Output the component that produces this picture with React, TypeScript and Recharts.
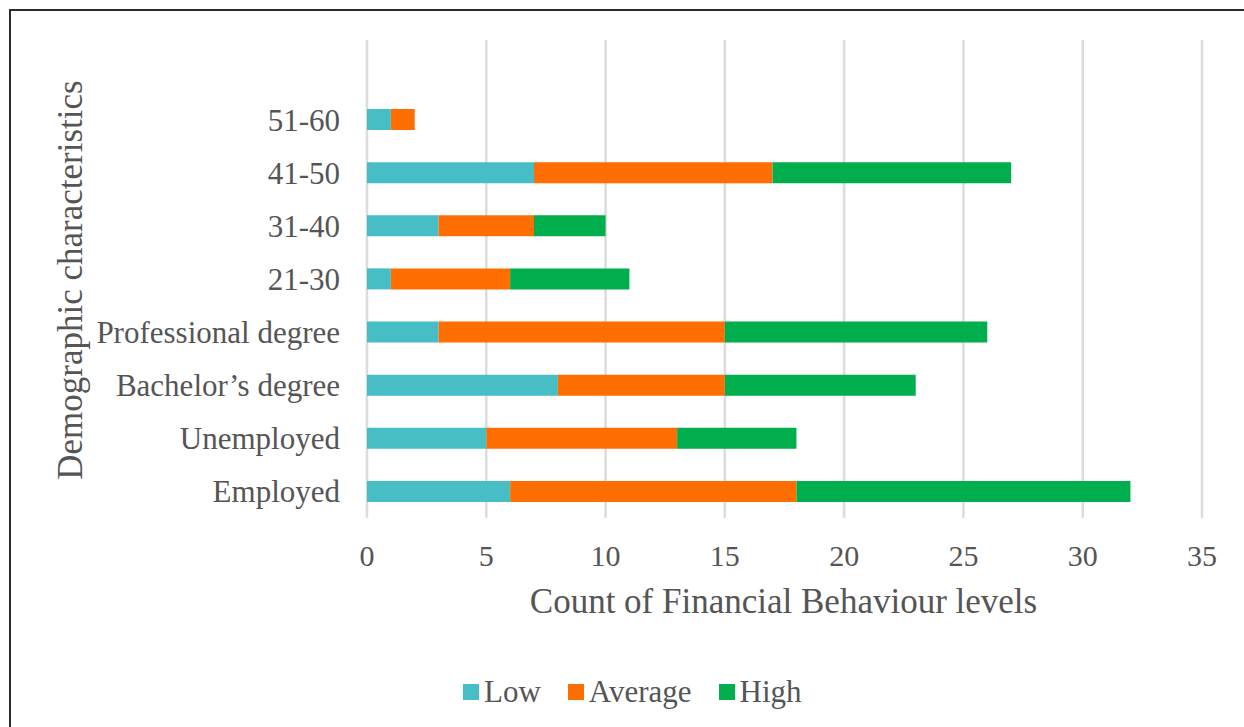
import React from 'react';
import { BarChart, Bar, XAxis, YAxis, CartesianGrid, Legend } from 'recharts';

// Demographic groups, listed top to bottom as they appear on the chart
const groups = [
  '51-60',
  '41-50',
  '31-40',
  '21-30',
  'Professional degree',
  'Bachelor\u2019s degree',
  'Unemployed',
  'Employed',
];

// Counts per financial behaviour level
const lowCounts = [1, 7, 3, 1, 3, 8, 5, 6];
const averageCounts = [1, 10, 4, 5, 12, 7, 8, 12];
const highCounts = [0, 10, 3, 5, 11, 8, 5, 14];

const xTicks = [0, 5, 10, 15, 20, 25, 30, 35];

const seriesNames = ['Low', 'Average', 'High'];
const seriesColors = ['#47BDC6', '#FF6E00', '#00AE4D'];

const data = groups.map((group, i) => ({
  group,
  low: lowCounts[i],
  average: averageCounts[i],
  high: highCounts[i],
}));

const FONT = '"Liberation Serif", "Times New Roman", serif';
const TEXT = '#555555';

const LegendContent = () => (
  <div style={{ display: 'flex', alignItems: 'center', fontFamily: FONT, color: TEXT }}>
    {seriesNames.map((name, i) => (
      <div
        key={name}
        style={{ display: 'flex', alignItems: 'center', marginLeft: i === 0 ? 0 : 27 }}
      >
        <span style={{ display: 'inline-block', width: 16, height: 16, background: seriesColors[i] }} />
        <span style={{ marginLeft: 5, fontSize: 31, lineHeight: '30px', whiteSpace: 'nowrap' }}>{name}</span>
      </div>
    ))}
  </div>
);

export default function App() {
  return (
    <div style={{ position: 'relative', width: 1244, height: 727, background: '#fff', overflow: 'hidden' }}>
      <style>{'body{margin:0;overflow:hidden;}'}</style>
      {/* frame lines */}
      <div style={{ position: 'absolute', left: 9, top: 9, width: 1235, height: 2, background: '#2b2b2b' }} />
      <div style={{ position: 'absolute', left: 9, top: 9, width: 2, height: 718, background: '#2b2b2b' }} />
      <div style={{ position: 'absolute', left: 0, top: 0 }}>
        <BarChart
          width={1244}
          height={727}
          data={data}
          layout="vertical"
          margin={{ top: 40, right: 42, bottom: 109, left: 0 }}
        >
          <CartesianGrid horizontal={false} vertical stroke="#DCDCDC" strokeWidth={2.5} />
          <XAxis
            type="number"
            domain={[0, 35]}
            ticks={xTicks}
            interval={0}
            axisLine={false}
            tickLine={false}
            tickSize={0}
            tickMargin={27}
            height={100}
            tick={{ fontSize: 30, fill: TEXT, fontFamily: FONT }}
            label={{
              content: (props: any) => {
                const vb = props.viewBox || {};
                const cx = (vb.x ?? 0) + (vb.width ?? 0) / 2 - 1;
                return (
                  <text
                    x={cx}
                    y={613}
                    textAnchor="middle"
                    fontSize={35}
                    fill={TEXT}
                    fontFamily={FONT}
                  >
                    Count of Financial Behaviour levels
                  </text>
                );
              },
            }}
          />
          <YAxis
            type="category"
            dataKey="group"
            width={367}
            padding={{ top: 53, bottom: 0 }}
            axisLine={false}
            tickLine={false}
            tickSize={0}
            tickMargin={27}
            interval={0}
            tick={{ fontSize: 31, fill: TEXT, fontFamily: FONT }}
            label={{
              content: (props: any) => {
                const vb = props.viewBox || {};
                const x = (vb.x ?? 0) + 82;
                const y = 280;
                return (
                  <text
                    x={x}
                    y={y}
                    transform={`rotate(-90 ${x} ${y})`}
                    textAnchor="middle"
                    fontSize={35}
                    fill={TEXT}
                    fontFamily={FONT}
                  >
                    Demographic characteristics
                  </text>
                );
              },
            }}
          />
          <Legend
            verticalAlign="middle"
            align="center"
            content={<LegendContent />}
            wrapperStyle={{ left: 463, top: 677, width: 'auto', height: 'auto' }}
          />
          <Bar dataKey="low" name="Low" stackId="a" fill={seriesColors[0]} barSize={21} isAnimationActive={false} />
          <Bar dataKey="average" name="Average" stackId="a" fill={seriesColors[1]} barSize={21} isAnimationActive={false} />
          <Bar dataKey="high" name="High" stackId="a" fill={seriesColors[2]} barSize={21} isAnimationActive={false} />
        </BarChart>
      </div>
    </div>
  );
}
